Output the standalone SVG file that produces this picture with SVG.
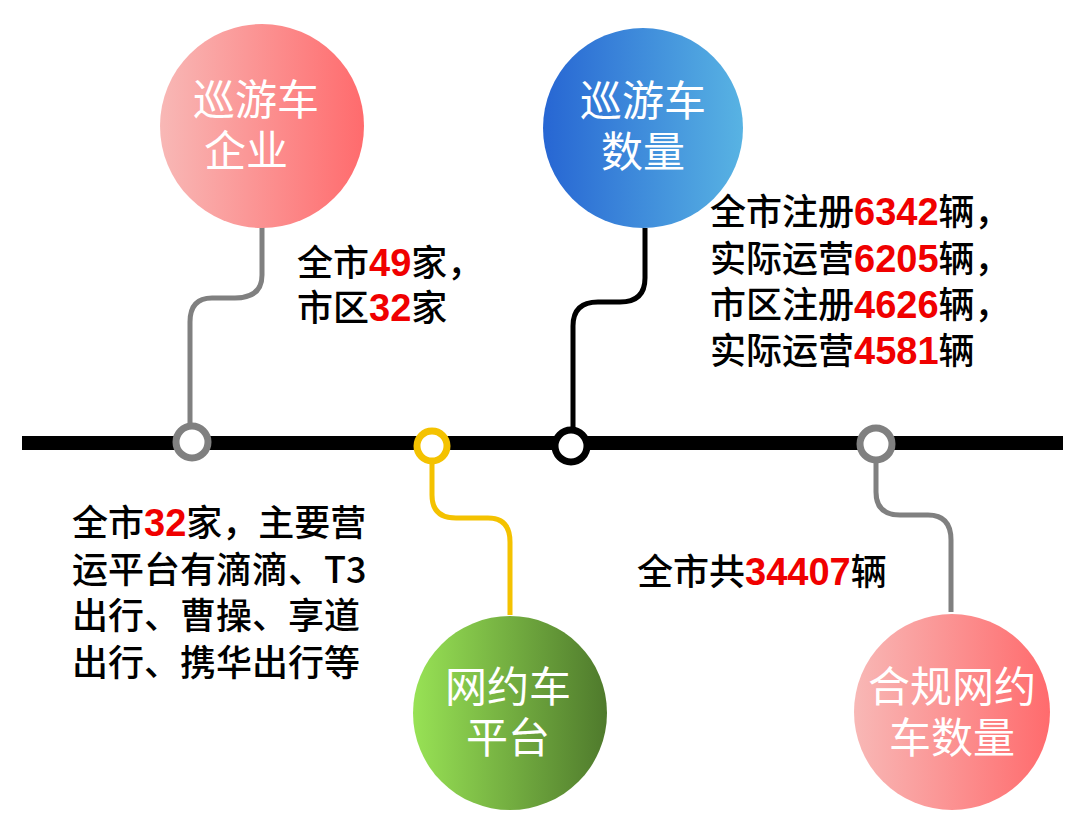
<svg xmlns="http://www.w3.org/2000/svg" width="1080" height="815" viewBox="0 0 1080 815">
<style>
.t{font-family:"Noto Sans CJK SC","Liberation Sans",sans-serif;font-size:36px;fill:#000;font-weight:500}
.r{fill:#f00000;font-weight:bold;font-family:"Liberation Sans",sans-serif;font-size:38px}
.c{font-family:"Noto Sans CJK SC",sans-serif;font-size:42px;fill:#fff;text-anchor:middle}
.ln{fill:none;stroke-width:5}
</style>
<defs>
<linearGradient id="pk" x1="0" x2="1"><stop offset="0" stop-color="#f8b8b6"/><stop offset="1" stop-color="#ff6b6d"/></linearGradient>
<linearGradient id="bl" x1="0" x2="1"><stop offset="0" stop-color="#2766d3"/><stop offset="1" stop-color="#58b3e3"/></linearGradient>
<linearGradient id="gr" x1="0" x2="1"><stop offset="0" stop-color="#98e255"/><stop offset="1" stop-color="#4f7a2c"/></linearGradient>
</defs>
<rect width="1080" height="815" fill="#fff"/>
<g id="connectors">
<path class="ln" stroke="#808080" d="M262 227 V275 Q262 298 235 298 H212 Q190 298 190 322 V425"/>
<path class="ln" stroke="#000" d="M645 228 V278 Q645 302 620 302 H598 Q573 302 573 326 V430"/>
<path class="ln" stroke="#f4c200" d="M432 462 V495 Q432 518 456 518 H488 Q510 518 510 542 V615"/>
<path class="ln" stroke="#808080" d="M876 460 V492 Q876 515 900 515 H928 Q951 515 951 540 V612"/>
<rect x="22" y="436" width="1041" height="14" fill="#000"/>
</g>
<g id="m1"><circle cx="192" cy="442" r="16" fill="#fff" stroke="#808080" stroke-width="7"/></g>
<g id="m2"><circle cx="432" cy="446" r="15" fill="#fff" stroke="#f4c200" stroke-width="7"/></g>
<g id="m3"><circle cx="571" cy="446" r="16" fill="#fff" stroke="#000" stroke-width="7"/></g>
<g id="m4"><circle cx="876" cy="444" r="16" fill="#fff" stroke="#808080" stroke-width="7"/></g>
<g id="n1"><circle cx="262" cy="126" r="102" fill="url(#pk)"/><text class="c" x="256" y="115">巡游车</text><text class="c" x="246" y="166">企业</text></g>
<g id="n2"><circle cx="643" cy="128" r="100" fill="url(#bl)"/><text class="c" x="643" y="116">巡游车</text><text class="c" x="643" y="167">数量</text></g>
<g id="n3"><circle cx="510" cy="713" r="97" fill="url(#gr)"/><text class="c" x="508" y="702">网约车</text><text class="c" x="508" y="753">平台</text></g>
<g id="n4"><circle cx="952" cy="712" r="98" fill="url(#pk)"/><text class="c" x="952" y="702">合规网约</text><text class="c" x="952" y="753">车数量</text></g>
<g id="txt">
<text class="t" x="297" y="276">全市<tspan class="r">49</tspan>家，</text>
<text class="t" x="297" y="321">市区<tspan class="r">32</tspan>家</text>
<text class="t" x="710" y="225">全市注册<tspan class="r">6342</tspan>辆，</text>
<text class="t" x="710" y="272">实际运营<tspan class="r">6205</tspan>辆，</text>
<text class="t" x="710" y="318">市区注册<tspan class="r">4626</tspan>辆，</text>
<text class="t" x="710" y="364">实际运营<tspan class="r">4581</tspan>辆</text>
<text class="t" x="72" y="536">全市<tspan class="r">32</tspan>家，主要营</text>
<text class="t" x="72" y="583">运平台有滴滴、T3</text>
<text class="t" x="72" y="629">出行、曹操、享道</text>
<text class="t" x="72" y="676">出行、携华出行等</text>
<text class="t" x="637" y="585">全市共<tspan class="r">34407</tspan>辆</text>
</g>
</svg>
